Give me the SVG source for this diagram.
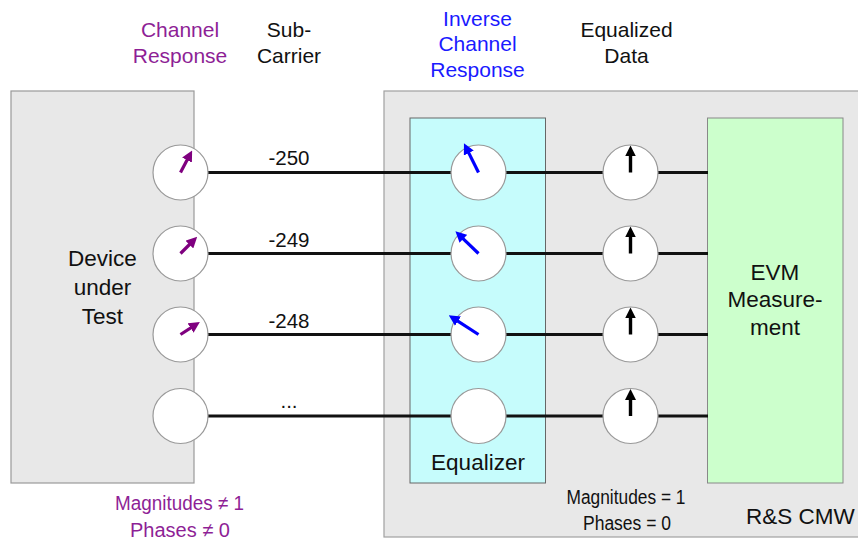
<svg xmlns="http://www.w3.org/2000/svg" width="858" height="540" viewBox="0 0 858 540">
<defs>
<marker id="hp" viewBox="0 0 10 10" refX="2.7" refY="5" markerWidth="11" markerHeight="11" markerUnits="userSpaceOnUse" orient="auto"><path d="M0,0 L10,5 L0,10 z" fill="#7f007f"/></marker>
<marker id="hb" viewBox="0 0 10 10" refX="2.7" refY="5" markerWidth="11" markerHeight="11" markerUnits="userSpaceOnUse" orient="auto"><path d="M0,0 L10,5 L0,10 z" fill="#0000ff"/></marker>
<marker id="hk" viewBox="0 0 10 10" refX="2.7" refY="5" markerWidth="11" markerHeight="11" markerUnits="userSpaceOnUse" orient="auto"><path d="M0,0 L10,5 L0,10 z" fill="#000"/></marker>
</defs>
<style>
text{font-family:"Liberation Sans",Arial,sans-serif;text-anchor:middle}
.h{font-size:21px;fill:#111}
.hp{font-size:21px;fill:#8e1f96}
.hb{font-size:21px;fill:#1a1aff}
.b{font-size:22.5px;fill:#111}
.n{font-size:20.5px;fill:#111}
.s{font-size:20px;fill:#111}
.sp{font-size:20px;fill:#8e1f96}
.c{fill:#fff;stroke:#999;stroke-width:1.2}
.ln{stroke:#111;stroke-width:3;fill:none}
.ap{stroke:#7f007f;stroke-width:3.2;marker-end:url(#hp)}
.ab{stroke:#0000ff;stroke-width:3.2;marker-end:url(#hb)}
.ak{stroke:#000;stroke-width:3.4;marker-end:url(#hk)}
</style>
<rect width="858" height="540" fill="#fff"/>
<g id="dut">
<rect x="11" y="91" width="183" height="392" fill="#e8e8e8" stroke="#999" stroke-width="1.2"/>
<text class="b" x="102.5" y="266">Device</text>
<text class="b" x="102.5" y="295">under</text>
<text class="b" x="102.5" y="324">Test</text>
</g>
<g id="cmw">
<rect x="384" y="91" width="490" height="446" fill="#e8e8e8" stroke="#a0a0a0" stroke-width="1.2"/>
<text class="b" x="746" y="524" style="text-anchor:start;font-size:22.5px">R&amp;S CMW</text>
</g>
<g id="equalizer">
<rect x="410" y="118" width="135.5" height="365" fill="#c6fcfc" stroke="#666" stroke-width="1"/>
<text class="b" x="478" y="470">Equalizer</text>
</g>
<g id="evm">
<rect x="707.5" y="118" width="135.5" height="365" fill="#ccffcc" stroke="#888" stroke-width="1"/>
<text class="b" x="775" y="280">EVM</text>
<text class="b" x="775" y="307">Measure-</text>
<text class="b" x="775" y="335">ment</text>
</g>
<g id="connectors">
<line class="ln" x1="200" y1="172.5" x2="708" y2="172.5"/>
<line class="ln" x1="200" y1="253.5" x2="708" y2="253.5"/>
<line class="ln" x1="200" y1="334.5" x2="708" y2="334.5"/>
<line class="ln" x1="200" y1="416" x2="708" y2="416"/>
</g>
<g id="ch-250"><circle class="c" cx="180.5" cy="172.5" r="27.5"/><line class="ap" x1="180.5" y1="172.5" x2="188.4" y2="157.5"/></g>
<g id="ch-249"><circle class="c" cx="180.5" cy="253.5" r="27.5"/><line class="ap" x1="180.5" y1="253.5" x2="191.5" y2="242.5"/></g>
<g id="ch-248"><circle class="c" cx="180.5" cy="334.5" r="27.5"/><line class="ap" x1="180.5" y1="334.5" x2="193.1" y2="326.4"/></g>
<g id="ch-n"><circle class="c" cx="180.5" cy="416" r="27.5"/></g>
<g id="inv-250"><circle class="c" cx="478.5" cy="172.5" r="27.5"/><line class="ab" x1="478.5" y1="172.5" x2="467.5" y2="150.4"/></g>
<g id="inv-249"><circle class="c" cx="478.5" cy="253.5" r="27.5"/><line class="ab" x1="478.5" y1="253.5" x2="461.2" y2="236.8"/></g>
<g id="inv-248"><circle class="c" cx="478.5" cy="334.5" r="27.5"/><line class="ab" x1="478.5" y1="334.5" x2="455.5" y2="319.6"/></g>
<g id="inv-n"><circle class="c" cx="478.5" cy="416" r="27.5"/></g>
<g id="eq-250"><circle class="c" cx="630.5" cy="172.5" r="27.5"/><line class="ak" x1="630.5" y1="172.5" x2="630.5" y2="153.5"/></g>
<g id="eq-249"><circle class="c" cx="630.5" cy="253.5" r="27.5"/><line class="ak" x1="630.5" y1="253.5" x2="630.5" y2="234.5"/></g>
<g id="eq-248"><circle class="c" cx="630.5" cy="334.5" r="27.5"/><line class="ak" x1="630.5" y1="334.5" x2="630.5" y2="315.5"/></g>
<g id="eq-n"><circle class="c" cx="630.5" cy="416" r="27.5"/><line class="ak" x1="630.5" y1="416" x2="630.5" y2="397"/></g>
<g id="labels">
<text class="n" x="289" y="165">-250</text>
<text class="n" x="289" y="246.5">-249</text>
<text class="n" x="289" y="328">-248</text>
<text class="n" x="289" y="408">...</text>
</g>
<g id="headers">
<text class="hp" x="180" y="37">Channel</text>
<text class="hp" x="180" y="63">Response</text>
<text class="h" x="289" y="37">Sub-</text>
<text class="h" x="289" y="63">Carrier</text>
<text class="hb" x="477.5" y="25.5">Inverse</text>
<text class="hb" x="477.5" y="51">Channel</text>
<text class="hb" x="477.5" y="76.5">Response</text>
<text class="h" x="626.5" y="37">Equalized</text>
<text class="h" x="626.5" y="63">Data</text>
</g>
<g id="notes">
<text class="sp" x="179.5" y="510" textLength="129" lengthAdjust="spacingAndGlyphs">Magnitudes ≠ 1</text>
<text class="sp" x="180" y="536.5" textLength="100" lengthAdjust="spacingAndGlyphs">Phases ≠ 0</text>
<text class="s" x="626" y="504" textLength="119" lengthAdjust="spacingAndGlyphs">Magnitudes = 1</text>
<text class="s" x="627" y="530" textLength="88" lengthAdjust="spacingAndGlyphs">Phases = 0</text>
</g>
</svg>
